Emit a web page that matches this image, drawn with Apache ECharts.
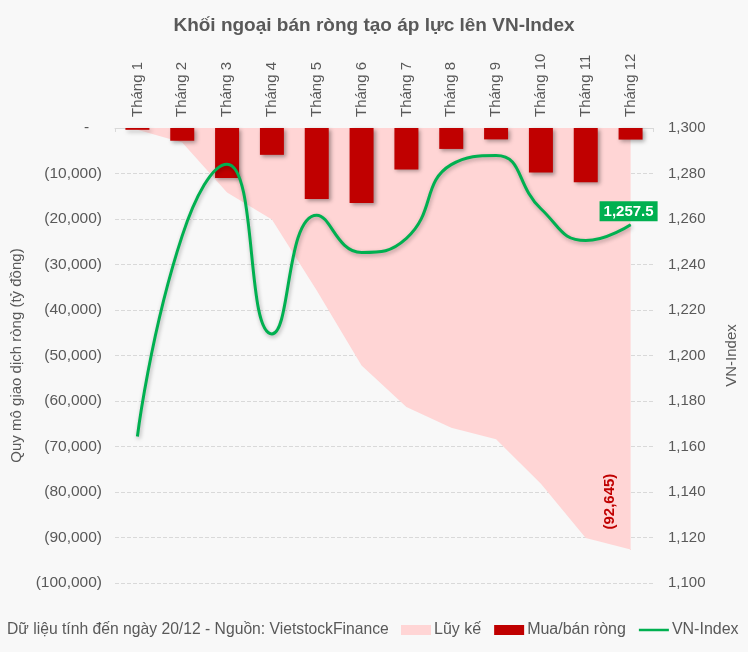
<!DOCTYPE html>
<html>
<head>
<meta charset="utf-8">
<script src="https://cdn.jsdelivr.net/npm/echarts@6/dist/echarts.min.js"></script>
<style>
html,body{margin:0;padding:0;background:#f8f8f8;}
#chart{width:748px;height:652px;}
</style>
</head>
<body>
<div id="chart"></div>
<script>
const categories = ['Tháng 1','Tháng 2','Tháng 3','Tháng 4','Tháng 5','Tháng 6','Tháng 7','Tháng 8','Tháng 9','Tháng 10','Tháng 11','Tháng 12'];
const netFlow = [-400, -2800, -11000, -5900, -15600, -16500, -9100, -4600, -2500, -9800, -11900, -2545];
const cumulative = [-400, -3200, -14200, -20100, -35700, -52200, -61300, -65900, -68400, -78200, -90100, -92645];
const vnIndex = [1164.4, 1252.7, 1284.1, 1209.5, 1261.7, 1245.3, 1251.5, 1283.9, 1287.9, 1264.5, 1250.5, 1257.5];
const leftTicks = {min: -100000, max: 0, interval: 10000};
const rightTicks = {min: 1100, max: 1300, interval: 20};

const TXT = '#595959';
const FONT = 'Liberation Sans, Arial, sans-serif';
const chart = echarts.init(document.getElementById('chart'));

const fmtLeft = v => v === 0 ? '-   ' : '(' + Math.abs(v).toLocaleString('en-US') + ')';
const fmtRight = v => v.toLocaleString('en-US');

const areaData = cumulative.map((v, i) => i === cumulative.length - 1 ? {
  value: v, symbol: 'circle', symbolSize: 1,
  itemStyle: {color: '#ffd5d5'},
  label: {
    show: true, position: 'inside', rotate: 90, align: 'left', verticalAlign: 'middle',
    offset: [20, -21], formatter: () => '(' + Math.abs(v).toLocaleString('en-US') + ')',
    color: '#c00000', fontWeight: 'bold', fontSize: 15, fontFamily: FONT
  }
} : v);

const lineData = vnIndex.map((v, i) => i === vnIndex.length - 1 ? {
  value: v, symbol: 'circle', symbolSize: 1,
  itemStyle: {color: '#00b050'},
  label: {
    show: true, position: 'top', distance: 3, offset: [-2, 0],
    formatter: () => v.toLocaleString('en-US', {minimumFractionDigits: 1}),
    color: '#ffffff', fontWeight: 'bold', fontSize: 15, fontFamily: FONT,
    backgroundColor: '#00b050', padding: [3, 4, 2, 4]
  }
} : v);

chart.setOption({
  backgroundColor: '#f8f8f8',
  animation: false,
  textStyle: {fontFamily: FONT},
  title: [{
    text: 'Khối ngoại bán ròng tạo áp lực lên VN-Index',
    left: 'center', top: 11,
    textStyle: {fontSize: 19, fontWeight: 'bold', color: TXT, fontFamily: FONT}
  }, {
    text: 'Dữ liệu tính đến ngày 20/12 - Nguồn: VietstockFinance',
    left: 7, top: 622, padding: 0,
    textStyle: {fontSize: 15.7, fontWeight: 'normal', color: TXT, fontFamily: FONT}
  }],
  legend: {
    left: 401, top: 622, padding: 0,
    itemWidth: 30, itemHeight: 10, itemGap: 13,
    textStyle: {fontSize: 16, color: TXT, fontFamily: FONT, padding: [0, 0, 0, -2]},
    data: [
      {name: 'Lũy kế', icon: 'rect'},
      {name: 'Mua/bán ròng', icon: 'rect'},
      {name: 'VN-Index', icon: 'path://M0,0L0.01,0L0.01,0.01ZM0,10L0.01,10L0.01,9.99ZM0,3.6L32,3.6L32,6.4L0,6.4Z'}
    ]
  },
  grid: {left: 115, right: 95, top: 128, bottom: 69},
  xAxis: {
    type: 'category', position: 'top', data: categories, boundaryGap: true,
    axisLine: {show: true, lineStyle: {color: '#d9d9d9', width: 1}},
    axisTick: {show: true, inside: true, length: 4, lineStyle: {color: '#d9d9d9'}},
    axisLabel: {rotate: 90, margin: 11, fontSize: 15, color: TXT, fontFamily: FONT}
  },
  yAxis: [{
    type: 'value', min: leftTicks.min, max: leftTicks.max, interval: leftTicks.interval,
    name: 'Quy mô giao dịch ròng (tỷ đồng)', nameLocation: 'middle', nameGap: 89, nameRotate: 90,
    nameTextStyle: {fontSize: 15, color: TXT, fontFamily: FONT},
    axisLine: {show: false}, axisTick: {show: false},
    axisLabel: {formatter: fmtLeft, fontSize: 15.5, color: TXT, margin: 13, fontFamily: FONT},
    splitLine: {show: true, lineStyle: {color: '#d9d9d9', type: 'dashed'}}
  }, {
    type: 'value', min: rightTicks.min, max: rightTicks.max, interval: rightTicks.interval,
    name: 'VN-Index', nameLocation: 'middle', nameGap: 71, nameRotate: 90,
    nameTextStyle: {fontSize: 15, color: TXT, fontFamily: FONT},
    axisLine: {show: false}, axisTick: {show: false},
    axisLabel: {formatter: fmtRight, fontSize: 15, color: TXT, margin: 15, fontFamily: FONT},
    splitLine: {show: false}
  }],
  series: [{
    name: 'Lũy kế', type: 'line', data: areaData, yAxisIndex: 0,
    symbol: 'none', showSymbol: true,
    lineStyle: {width: 0, color: '#ffd5d5'},
    itemStyle: {color: '#ffd5d5'},
    areaStyle: {color: '#ffd5d5', opacity: 1},
    z: 1
  }, {
    name: 'Mua/bán ròng', type: 'bar', data: netFlow, yAxisIndex: 0,
    barWidth: 24,
    itemStyle: {color: '#c00000', shadowColor: 'rgba(0,0,0,0.35)', shadowBlur: 4, shadowOffsetX: 2, shadowOffsetY: 2},
    z: 2
  }, {
    name: 'VN-Index', type: 'line', data: lineData, yAxisIndex: 1,
    smooth: true, symbol: 'none', showSymbol: true,
    lineStyle: {width: 3, color: '#00b050', shadowColor: 'rgba(0,0,0,0.3)', shadowBlur: 4, shadowOffsetX: 1, shadowOffsetY: 2},
    itemStyle: {color: '#00b050'},
    z: 3
  }]
});
</script>
</body>
</html>
